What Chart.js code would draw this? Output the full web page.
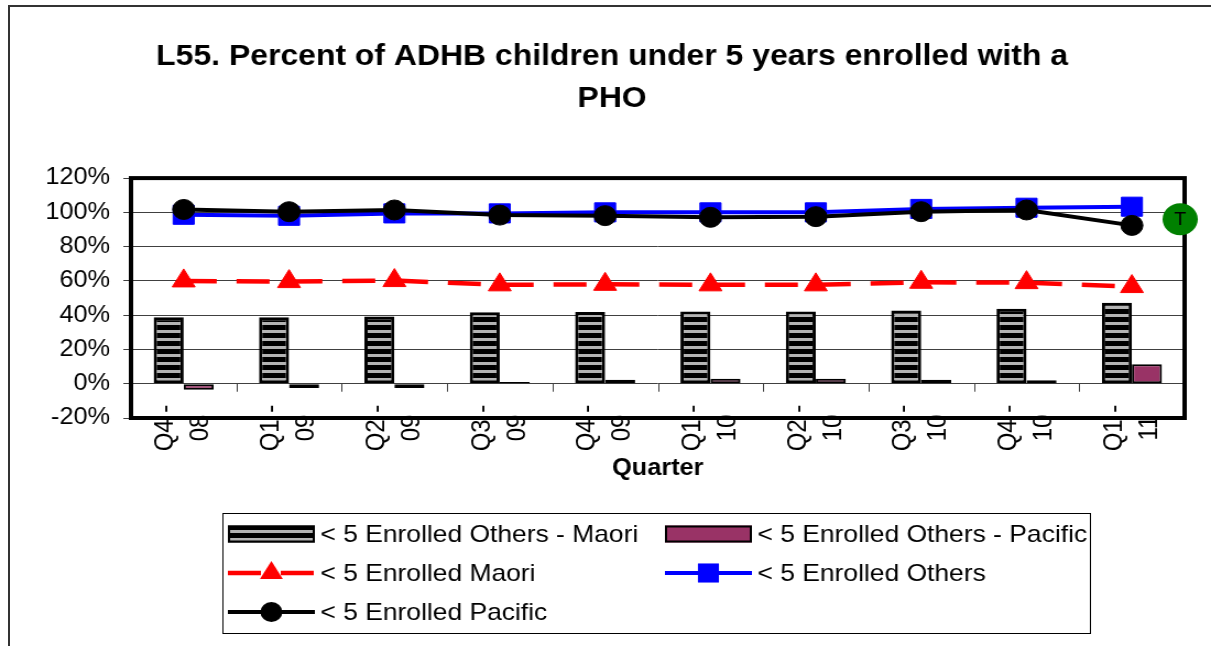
<!DOCTYPE html>
<html>
<head>
<meta charset="utf-8">
<script src="https://cdn.jsdelivr.net/npm/chart.js@4.4.1/dist/chart.umd.min.js"></script>
<style>
  html, body { margin: 0; padding: 0; background: #fff; }
  #frame { position: absolute; left: 8px; top: 5px; width: 1300px; height: 700px;
           border-left: 2px solid #333; border-top: 2px solid #333; }
  #chart { position: absolute; left: 0; top: 0; }
</style>
</head>
<body>
<div id="frame"></div>
<canvas id="chart" width="1100" height="646" style="width:1211px;height:646px"></canvas>
<script>
// quarters on the x axis (wrapped onto two lines, as in the original)
const quarters = [["Q4 -", "08"], ["Q1 -", "09"], ["Q2 -", "09"], ["Q3 -", "09"], ["Q4 -", "09"],
                  ["Q1 -", "10"], ["Q2 -", "10"], ["Q3 -", "10"], ["Q4 -", "10"], ["Q1 -", "11"]];

// values in percent
const othersMinusMaori   = [38.8, 38.8, 39.2, 41.7, 41.9, 42.1, 42.1, 42.7, 43.7, 47.2];
const othersMinusPacific = [-3.5, -2.5, -2.5, 1.0, 2.3, 2.9, 2.9, 2.3, 2.1, 11.3];
const enrolledMaori      = [60.0, 59.6, 60.2, 57.7, 58.0, 57.7, 57.7, 59.2, 59.0, 56.7];
const enrolledOthers     = [98.6, 98.0, 99.4, 99.4, 100.0, 100.0, 100.0, 102.0, 102.7, 103.3];
const enrolledPacific    = [101.7, 100.4, 101.4, 98.4, 98.1, 97.1, 97.5, 100.4, 101.4, 92.4];

const yTicks = [-20, 0, 20, 40, 60, 80, 100, 120];
const targetValue = 96;
const targetLabel = "T";

const titleLines = ["L55. Percent of ADHB children under 5 years enrolled with a", "PHO"];
const FONT = "'Liberation Sans', Arial, sans-serif";

Chart.defaults.font.family = FONT;
Chart.defaults.color = "#000";

function stripePattern() {
  const c = document.createElement("canvas");
  c.width = 8; c.height = 8;
  const g = c.getContext("2d");
  g.fillStyle = "#000";
  g.fillRect(0, 0, 8, 8);
  g.fillStyle = "#b4b4b4";
  g.fillRect(0, 2, 8, 3);
  return g.createPattern(c, "repeat");
}

function drawMarker(ctx, style, r, x, y, color) {
  ctx.save();
  ctx.fillStyle = color;
  ctx.beginPath();
  if (style === "circle") {
    ctx.arc(x, y, r, 0, Math.PI * 2);
  } else if (style === "rect") {
    const s = r * Math.SQRT1_2;
    ctx.rect(x - s, y - s, 2 * s, 2 * s);
  } else if (style === "triangle") {
    let a = 0;
    ctx.moveTo(x + Math.sin(a) * r, y - Math.cos(a) * r);
    a += Math.PI * 2 / 3;
    ctx.lineTo(x + Math.sin(a) * r, y - Math.cos(a) * r);
    a += Math.PI * 2 / 3;
    ctx.lineTo(x + Math.sin(a) * r, y - Math.cos(a) * r);
    ctx.closePath();
  }
  ctx.fill();
  ctx.restore();
}

// category labels, frame, zero-line ticks, the green "T" marker and the boxed legend
const extras = {
  id: "extras",
  beforeDatasetsDraw(chart) {
    const { ctx, chartArea: a, scales: { x, y } } = chart;
    const y0 = y.getPixelForValue(0);
    ctx.save();

    // rotated, centred two-line labels (they start a little inside the plot, like the original)
    ctx.fillStyle = "#000";
    ctx.font = "24px " + FONT;
    ctx.textAlign = "center";
    ctx.textBaseline = "middle";
    quarters.forEach((lines, i) => {
      const px = x.getPixelForValue(i);
      lines.forEach((t, j) => {
        ctx.save();
        ctx.translate(px + (j - (lines.length - 1) / 2) * 32, a.bottom + 10);
        ctx.rotate(-Math.PI / 2);
        ctx.fillText(t, 0, 0);
        ctx.restore();
      });
    });

    ctx.strokeStyle = "#404040";
    ctx.lineWidth = 1;
    ctx.beginPath();
    for (let i = 1; i < quarters.length; i++) {
      const bx = Math.round((x.getPixelForValue(i - 1) + x.getPixelForValue(i)) / 2) + 0.5;
      ctx.moveTo(bx, y0);
      ctx.lineTo(bx, y0 + 8);
    }
    ctx.stroke();
    ctx.strokeStyle = "#000";
    ctx.lineWidth = 4;
    ctx.strokeRect(a.left, a.top, a.right - a.left, a.bottom - a.top);
    ctx.restore();
  },
  afterDatasetsDraw(chart) {
    const { ctx, chartArea: a, scales: { y } } = chart;
    const cx = a.right - 4;
    const cy = y.getPixelForValue(targetValue);
    ctx.save();
    ctx.fillStyle = "#008000";
    ctx.beginPath();
    ctx.arc(cx, cy, 16, 0, Math.PI * 2);
    ctx.fill();
    ctx.fillStyle = "#000";
    ctx.font = "18px " + FONT;
    ctx.textAlign = "center";
    ctx.textBaseline = "middle";
    ctx.fillText(targetLabel, cx, cy + 1);
    ctx.restore();
  },
  afterDraw(chart) {
    const ctx = chart.ctx;
    const box = { left: 202, top: 513.5, width: 788, height: 120 };
    const cols = [207, 604];
    const rows = [534, 573, 612];
    const mw = 79;
    ctx.save();
    ctx.strokeStyle = "#000";
    ctx.lineWidth = 1;
    ctx.strokeRect(box.left + 0.5, box.top, box.width, box.height);
    ctx.font = "24px " + FONT;
    ctx.textBaseline = "middle";
    chart.data.datasets.forEach((ds, i) => {
      const mx = cols[i % 2];
      const my = rows[Math.floor(i / 2)];
      if (ds.type === "bar") {
        ctx.fillStyle = ds.backgroundColor;
        ctx.fillRect(mx, my - 8.5, mw, 17);
        ctx.strokeStyle = "#000";
        ctx.lineWidth = 2;
        ctx.strokeRect(mx + 1, my - 7.5, mw - 2, 15);
      } else {
        ctx.save();
        ctx.strokeStyle = ds.borderColor;
        ctx.lineWidth = ds.borderWidth;
        ctx.setLineDash(ds.borderDash || []);
        ctx.beginPath();
        ctx.moveTo(mx, my);
        ctx.lineTo(mx + mw, my);
        ctx.stroke();
        ctx.restore();
        drawMarker(ctx, ds.pointStyle, ds.pointRadius, mx + mw / 2, my, ds.pointBackgroundColor);
      }
      ctx.fillStyle = "#000";
      ctx.fillText(ds.label, mx + mw + 5, my + 1);
    });
    ctx.restore();
  }
};

new Chart(document.getElementById("chart"), {
  data: {
    labels: quarters,
    datasets: [
      {
        type: "bar",
        label: "< 5 Enrolled Others - Maori",
        data: othersMinusMaori,
        backgroundColor: stripePattern(),
        borderColor: "#000",
        borderWidth: 3,
        borderSkipped: false,
        categoryPercentage: 0.57,
        barPercentage: 1,
        order: 3
      },
      {
        type: "bar",
        label: "< 5 Enrolled Others - Pacific",
        data: othersMinusPacific,
        backgroundColor: "#993366",
        borderColor: "#000",
        borderWidth: 2,
        borderSkipped: false,
        categoryPercentage: 0.57,
        barPercentage: 1,
        order: 4
      },
      {
        type: "line",
        label: "< 5 Enrolled Maori",
        data: enrolledMaori,
        borderColor: "#ff0000",
        borderWidth: 4.5,
        borderDash: [30, 18],
        pointStyle: "triangle",
        pointRadius: 12,
        pointBackgroundColor: "#ff0000",
        pointBorderColor: "#ff0000",
        pointBorderWidth: 1,
        tension: 0,
        order: 2
      },
      {
        type: "line",
        label: "< 5 Enrolled Others",
        data: enrolledOthers,
        borderColor: "#0000ff",
        borderWidth: 4,
        pointStyle: "rect",
        pointRadius: 13.5,
        pointBackgroundColor: "#0000ff",
        pointBorderColor: "#0000ff",
        pointBorderWidth: 1,
        tension: 0,
        order: 1
      },
      {
        type: "line",
        label: "< 5 Enrolled Pacific",
        data: enrolledPacific,
        borderColor: "#000",
        borderWidth: 4,
        pointStyle: "circle",
        pointRadius: 10,
        pointBackgroundColor: "#000",
        pointBorderColor: "#000",
        pointBorderWidth: 1,
        tension: 0,
        order: 0
      }
    ]
  },
  options: {
    responsive: false,
    animation: false,
    devicePixelRatio: 1,
    events: [],
    layout: { padding: { left: 36, right: 24, top: 0, bottom: 158 } },
    plugins: {
      legend: { display: false },
      tooltip: { enabled: false },
      title: {
        display: true,
        text: titleLines,
        color: "#000",
        font: { size: 29, weight: "bold", lineHeight: 1.45 },
        padding: { top: 36, bottom: 58 }
      }
    },
    scales: {
      x: {
        grid: { display: false, drawTicks: false },
        border: { display: false },
        ticks: { display: false },
        title: {
          display: true,
          text: "Quarter",
          font: { size: 23, weight: "bold" },
          padding: { top: 0, bottom: 6 }
        },
        afterFit(s) { s.height = 70; }
      },
      y: {
        min: yTicks[0],
        max: yTicks[yTicks.length - 1],
        ticks: {
          stepSize: 20,
          font: { size: 23 },
          padding: 12,
          callback: v => v + "%"
        },
        grid: { color: "#404040", tickColor: "#404040", tickLength: 7, lineWidth: 1 },
        border: { display: false },
        afterFit(s) { s.width = 83; }
      }
    }
  },
  plugins: [extras]
});
</script>
</body>
</html>
